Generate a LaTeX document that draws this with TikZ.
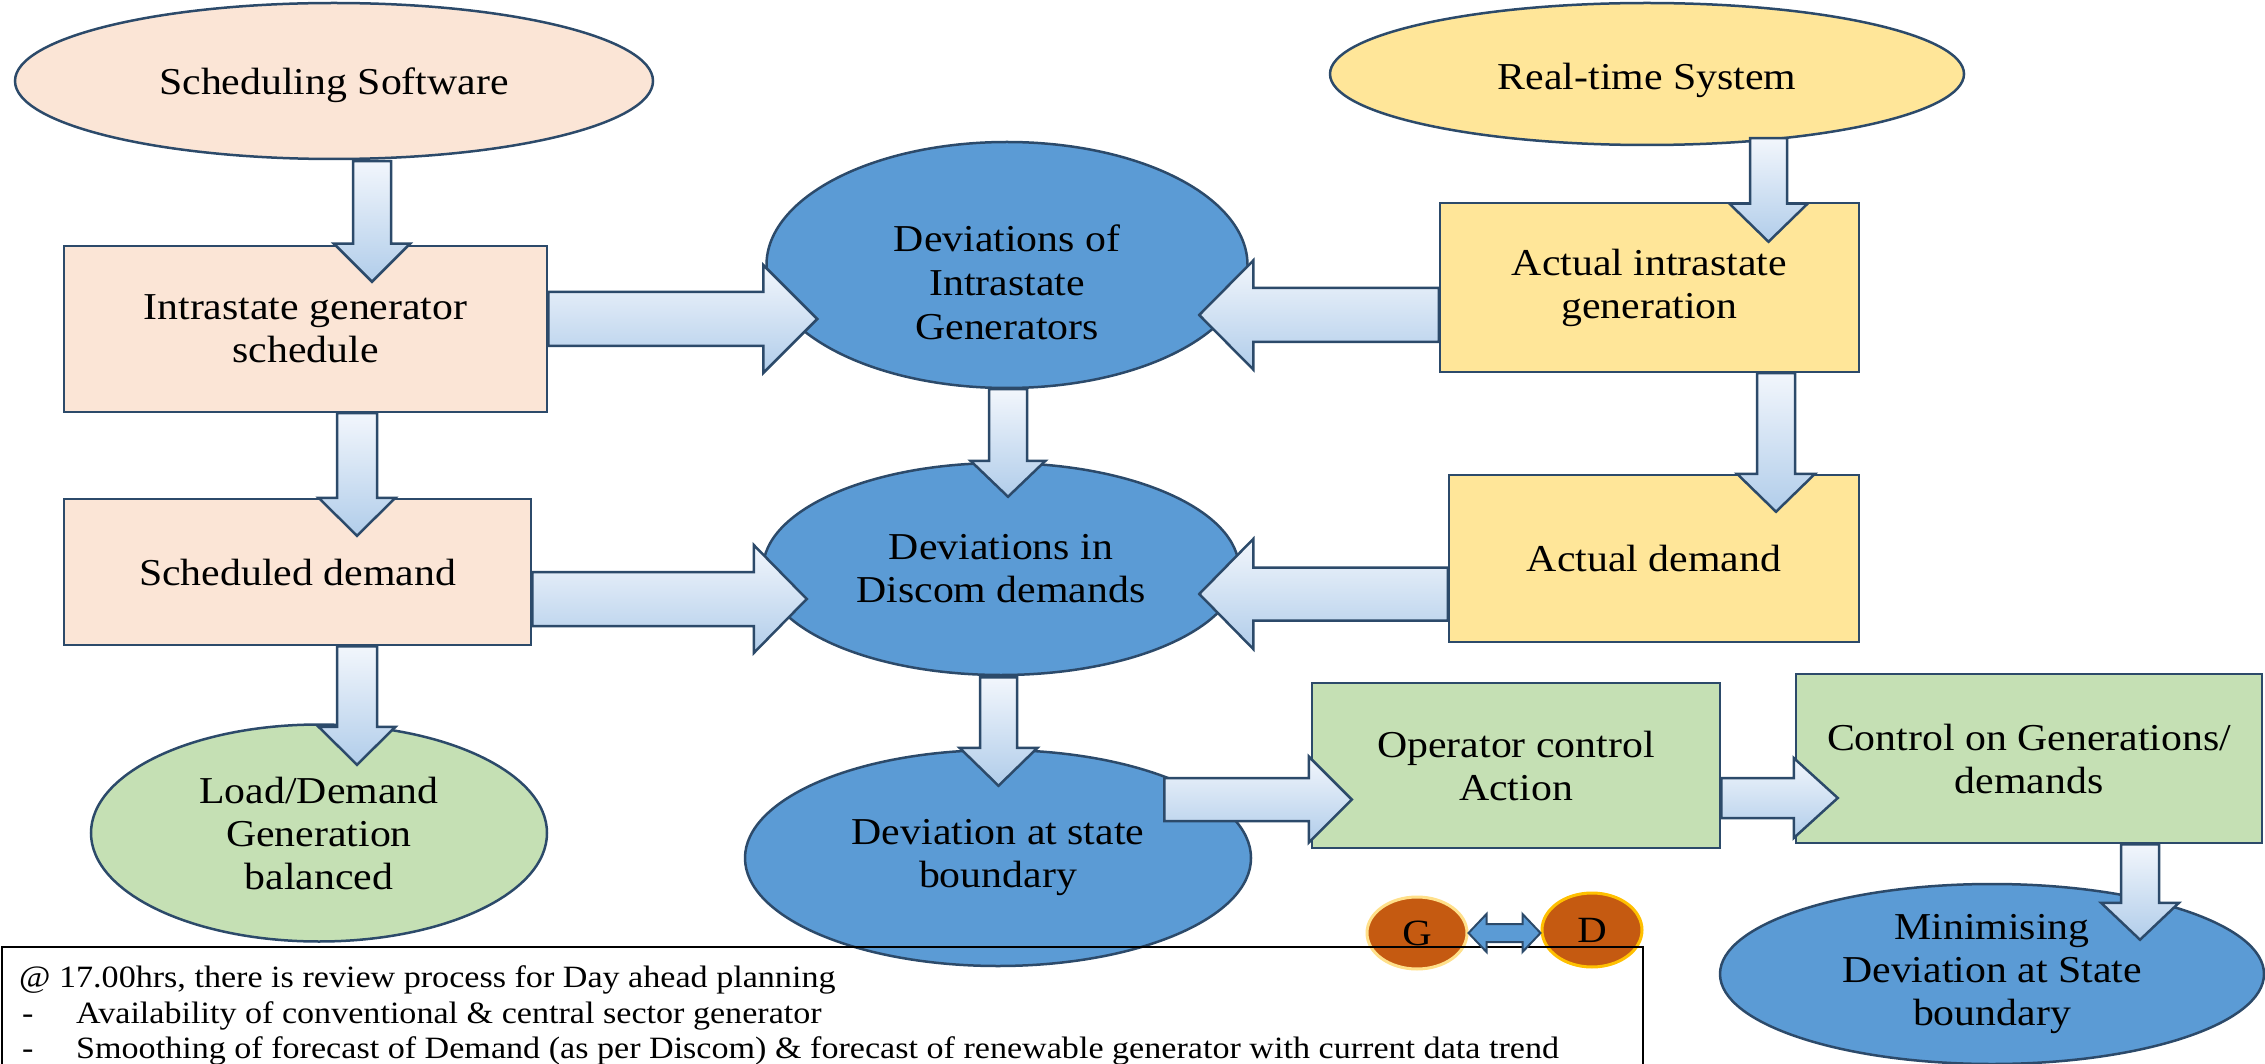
\documentclass[tikz,border=0pt]{standalone}
\usepackage{fontspec}
\setmainfont{Liberation Serif}[FakeStretch=1.1]
\usetikzlibrary{shapes.geometric,calc}
\definecolor{bord}{HTML}{2C4A6A}
\definecolor{peach}{HTML}{FBE5D6}
\definecolor{ylw}{HTML}{FFE699}
\definecolor{grn}{HTML}{C5E0B4}
\definecolor{blu}{HTML}{5B9BD5}
\definecolor{arrtop}{HTML}{F2F6FC}
\definecolor{arrbot}{HTML}{B1CDEA}
\definecolor{gdfill}{HTML}{C55A11}
\definecolor{gring}{HTML}{FFE08A}
\definecolor{dring}{HTML}{FFC000}
\tikzset{
  shp/.style={draw=bord, line width=2.5pt, inner sep=0pt, align=center,
              font=\fontsize{38}{43}\selectfont},
  box/.style={shp, rectangle, fill=#1},
  ell/.style={shp, ellipse, fill=#1},
  lbl/.style={inner sep=0pt, align=center, font=\fontsize{38}{44}\selectfont},
  blk/.style={draw=bord, line width=2.5pt, top color=arrtop, bottom color=arrbot},
  note/.style={inner sep=0pt, font=\fontsize{31}{36}\selectfont},
  gd/.style={ellipse, fill=gdfill, line width=3pt, inner sep=0pt,
             font=\fontsize{37}{43}\selectfont}
}
% down arrow: #1 start (top centre), #2 tip, #3 shaft half-width, #4 head half-width, #5 head length
\newcommand\dnblk[5]{\draw[blk] let \p1=#1, \p2=#2 in
  (\x1-#3pt,\y1) -- (\x1+#3pt,\y1) -- (\x1+#3pt,\y2+#5pt) -- (\x1+#4pt,\y2+#5pt)
  -- (\x1,\y2) -- (\x1-#4pt,\y2+#5pt) -- (\x1-#3pt,\y2+#5pt) -- cycle;}
\newcommand\rtblk[5]{\draw[blk] let \p1=#1, \p2=#2 in
  (\x1,\y1+#3pt) -- (\x2-#5pt,\y1+#3pt) -- (\x2-#5pt,\y1+#4pt) -- (\x2,\y1)
  -- (\x2-#5pt,\y1-#4pt) -- (\x2-#5pt,\y1-#3pt) -- (\x1,\y1-#3pt) -- cycle;}
\newcommand\ltblk[5]{\draw[blk] let \p1=#1, \p2=#2 in
  (\x1,\y1+#3pt) -- (\x2+#5pt,\y1+#3pt) -- (\x2+#5pt,\y1+#4pt) -- (\x2,\y1)
  -- (\x2+#5pt,\y1-#4pt) -- (\x2+#5pt,\y1-#3pt) -- (\x1,\y1-#3pt) -- cycle;}
\newcommand\dblblk[5]{\draw[draw=bord, fill=blu, line width=2pt] let \p1=#1, \p2=#2 in
  (\x1,\y1) -- (\x1+#5pt,\y1+#4pt) -- (\x1+#5pt,\y1+#3pt) -- (\x2-#5pt,\y1+#3pt)
  -- (\x2-#5pt,\y1+#4pt) -- (\x2,\y1) -- (\x2-#5pt,\y1-#4pt) -- (\x2-#5pt,\y1-#3pt)
  -- (\x1+#5pt,\y1-#3pt) -- (\x1+#5pt,\y1-#4pt) -- cycle;}
\begin{document}
\begin{tikzpicture}[x=1pt,y=-1pt]
\useasboundingbox (0,0) rectangle (2265,1064);
\clip (0,0) rectangle (2265,1064);
\fill[white] (0,0) rectangle (2265,1064);

% ---- shapes ----
\node[ell=peach, minimum width=638pt, minimum height=156pt] (sw) at (334,81) {\raisebox{-4pt}[\height][\depth]{Scheduling Software}};
\node[ell=ylw, minimum width=634pt, minimum height=142pt] (rts) at (1647,74) {\raisebox{-6pt}[\height][\depth]{Real-time System}};
\node[box=peach, minimum width=483pt, minimum height=166pt] (igs) at (305.5,329) {Intrastate generator\\schedule};
\node[ell=blu, minimum width=481pt, minimum height=246pt] (dig) at (1007,265) {};
\node[lbl] (digtext) at ($(dig.center)+(0,17)$) {Deviations of\\Intrastate\\Generators};
\node[box=ylw, minimum width=419pt, minimum height=169pt] (aig) at (1649.5,287.5) {Actual intrastate\\generation};
\node[box=peach, minimum width=467pt, minimum height=146pt] (sd) at (297.5,572) {Scheduled demand};
\node[ell=blu, minimum width=476pt, minimum height=212pt] (ddd) at (1001,569) {Deviations in\\Discom demands};
\node[box=ylw, minimum width=410pt, minimum height=167pt] (ad) at (1654,558.5) {Actual demand};
\node[ell=grn, minimum width=456pt, minimum height=217pt] (ldg) at (319,833) {Load/Demand\\Generation\\balanced};
\node[ell=blu, minimum width=506pt, minimum height=216pt] (dsb) at (998,858) {Deviation at state\\boundary};
\node[box=grn, minimum width=408pt, minimum height=165pt] (oca) at (1516,765.5) {Operator control\\Action};
\node[box=grn, minimum width=466pt, minimum height=169pt] (cgd) at (2029,758.5) {Control on Generations/\\demands};
\node[ell=blu, minimum width=544pt, minimum height=180pt] (msb) at (1992,974) {Minimising\\Deviation at State\\boundary};

% ---- block arrows ----
\dnblk{($(sw.south)+(38,1)$)}{($(igs.north)+(0,37)$)}{19}{38}{38}
\rtblk{($(igs.east)+(0,-10)$)}{($(dig.west)+(52,0)$)}{27}{54}{54}
\dnblk{($(rts.south)+(121.5,-8)$)}{($(aig.north)+(0,40)$)}{18.5}{39}{38}
\ltblk{($(aig.west)+(0,27.5)$)}{($(dig.east)+(-49.5,0)$)}{27}{54.5}{54}
\dnblk{($(igs.south)+(51.5,0)$)}{($(sd.north)+(0,38)$)}{20}{38.5}{38}
\dnblk{($(dig.south)+(1,0)$)}{($(ddd.north)+(0,35)$)}{19}{37.5}{36}
\dnblk{($(aig.south)+(126.5,0)$)}{($(ad.north)+(0,38)$)}{19}{39}{38}
\rtblk{($(sd.east)+(0,27)$)}{($(ddd.west)+(45,0)$)}{27}{54}{53}
\ltblk{($(ad.west)+(0,35.5)$)}{($(ddd.east)+(-41,0)$)}{26.5}{55}{54}
\dnblk{($(sd.south)+(59.5,0)$)}{($(ldg.north)+(0,41.5)$)}{20}{38.5}{38}
\dnblk{($(ddd.south)+(-2.5,1)$)}{($(dsb.north)+(0,37)$)}{18.5}{39}{38}
\rtblk{($(dsb.east)+(-88,-58.5)$)}{($(oca.west)+(41,0)$)}{21.5}{43}{43}
\rtblk{($(oca.east)+(0,32.5)$)}{($(cgd.west)+(43,0)$)}{20}{40}{44}
\dnblk{($(cgd.south)+(111,0)$)}{($(msb.north)+(0,57)$)}{19}{39}{37}

% ---- G / D ----
\node[gd, draw=gring, minimum width=100pt, minimum height=72pt] (G) at (1417,933) {G};
\node[gd, draw=dring, minimum width=100pt, minimum height=74pt] (D) at (1592,930) {D};

% ---- note box ----
\node[draw=black, line width=2pt, anchor=north west, minimum width=1641pt,
      minimum height=200pt, inner sep=0pt] (notebox) at (1,946) {};
\node[note, anchor=base west] (n1) at (19,987) {@ 17.00hrs, there is review process for Day ahead planning};
\node[note, anchor=base west] (n2) at (22,1023) {\makebox[54pt][l]{-}Availability of conventional \& central sector generator};
\node[note, anchor=base west] (n3) at (22,1058) {\makebox[54pt][l]{-}Smoothing of forecast of Demand (as per Discom) \& forecast of renewable generator with current data trend};

\dblblk{(G.east)}{(D.west)}{9}{19}{18}
\end{tikzpicture}
\end{document}
